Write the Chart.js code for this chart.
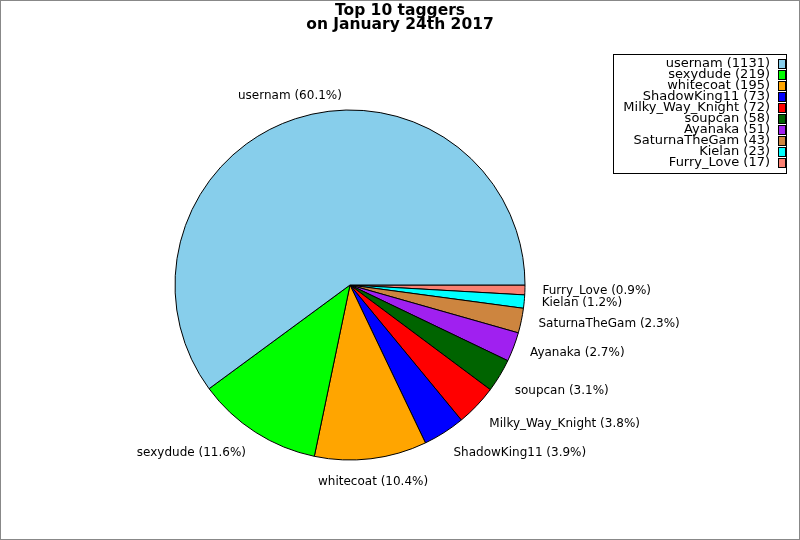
<!DOCTYPE html>
<html>
<head>
<meta charset="utf-8">
<script src="https://cdn.jsdelivr.net/npm/chart.js@4.4.1/dist/chart.umd.min.js"></script>
<style>
  html, body { margin: 0; padding: 0; background: #fff; }
  #wrap { position: relative; width: 798px; height: 538px; border: 1px solid #888; }
  canvas { display: block; }
</style>
</head>
<body>
<div id="wrap"><canvas id="c" width="798" height="538"></canvas></div>
<script>
const titleLines = ["Top 10 taggers", "on January 24th 2017"];
const users = ["usernam", "sexydude", "whitecoat", "ShadowKing11", "Milky_Way_Knight", "soupcan", "Ayanaka", "SaturnaTheGam", "Kielan", "Furry_Love"];
const counts = [1131, 219, 195, 73, 72, 58, 51, 43, 23, 17];
const colors = ["#87CEEB", "#00FF00", "#FFA500", "#0000FF", "#FF0000", "#006400", "#A020F0", "#CD853F", "#00FFFF", "#FA8072"];

const total = counts.reduce((a, b) => a + b, 0);
const pct = counts.map(v => (100 * v / total).toFixed(1) + "%");

// matplotlib draws counter-clockwise from 3 o'clock; Chart.js draws clockwise,
// so feed the data reversed and start at 3 o'clock.
const rLabels = users.slice().reverse();
const rCounts = counts.slice().reverse();
const rColors = colors.slice().reverse();
const rPct = pct.slice().reverse();

const FONT = "'DejaVu Sans', sans-serif";

const decor = {
  id: 'decor',
  afterDatasetsDraw(chart) {
    const ctx = chart.ctx;
    ctx.save();
    // title
    ctx.fillStyle = '#000';
    ctx.font = 'bold 15.5px ' + FONT;
    ctx.textAlign = 'center';
    ctx.textBaseline = 'middle';
    ctx.fillText(titleLines[0], 399, 10);
    ctx.fillText(titleLines[1], 399, 24);

    // slice labels
    const meta = chart.getDatasetMeta(0);
    ctx.font = '12px ' + FONT;
    meta.data.forEach((arc, i) => {
      const p = arc.getProps(['startAngle', 'endAngle', 'x', 'y', 'outerRadius'], true);
      const mid = (p.startAngle + p.endAngle) / 2;
      const c = Math.cos(mid), s = Math.sin(mid);
      const lx = p.x + 1.1 * p.outerRadius * c;
      const ly = p.y + 1.1 * p.outerRadius * s;
      let ha = c > 0.4 ? 'left' : (c < -0.4 ? 'right' : 'center');
      let va = s > 0.45 ? 'top' : (s < -0.45 ? 'bottom' : 'middle');
      ctx.textAlign = ha;
      ctx.textBaseline = va;
      ctx.fillText(rLabels[i] + ' (' + rPct[i] + ')', lx, ly);
    });

    // legend
    ctx.lineWidth = 1;
    ctx.strokeStyle = '#000';
    ctx.strokeRect(612.5, 53.5, 173, 119);
    ctx.font = '13px ' + FONT;
    ctx.textAlign = 'right';
    ctx.textBaseline = 'middle';
    users.forEach((u, i) => {
      const y = 63 + 11 * i;
      ctx.fillStyle = '#000';
      ctx.fillText(u + ' (' + counts[i] + ')', 769, y);
      ctx.fillStyle = colors[i];
      ctx.fillRect(777.5, y - 4.5, 7, 9);
      ctx.strokeRect(777.5, y - 4.5, 7, 9);
    });
    ctx.restore();
  }
};

new Chart(document.getElementById('c'), {
  type: 'pie',
  data: {
    labels: rLabels,
    datasets: [{
      data: rCounts,
      backgroundColor: rColors,
      borderColor: '#000',
      borderWidth: 1
    }]
  },
  options: {
    responsive: false,
    animation: false,
    rotation: 90,
    radius: 175,
    layout: { padding: { left: 174, right: 274, top: 109, bottom: 79 } },
    plugins: {
      legend: { display: false },
      title: { display: false },
      tooltip: { enabled: false }
    }
  },
  plugins: [decor]
});
</script>
</body>
</html>
